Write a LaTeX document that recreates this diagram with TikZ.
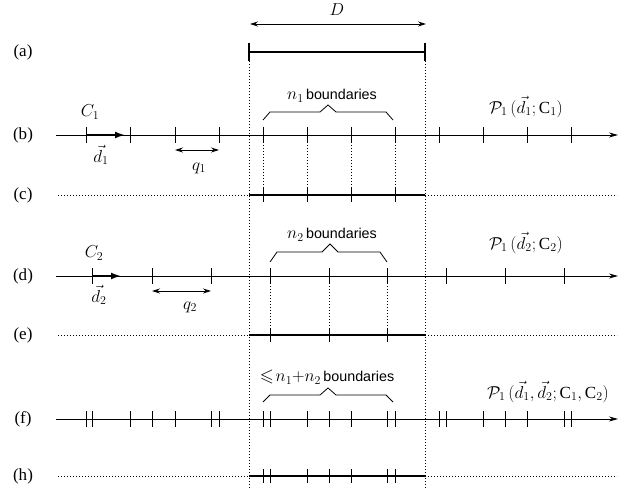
\documentclass[tikz,border=0pt]{standalone}
\usepackage{amsmath,amssymb}
\usepackage{fontspec}
\setmainfont{Liberation Serif}
\newfontfamily\bfont{Liberation Sans}
\usetikzlibrary{arrows.meta}
\newcommand{\mybigmath}[1]{{\fontsize{18}{18}\selectfont$#1$}}
\begin{document}
\begin{tikzpicture}[x=1pt,y=-1pt,
  rowlab/.style={font=\fontsize{17}{17}\selectfont, inner sep=0pt},
  axisline/.style={line width=0.8pt,-{Stealth[length=9pt,width=5pt]}},
  tickmark/.style={line width=0.8pt},
  seg/.style={line width=1.8pt},
  dotline/.style={line width=0.8pt, dash pattern=on 0.8pt off 2.2pt},
  bigarrow/.style={line width=1.8pt,-{Latex[length=10pt,width=7pt]}},
  dblarrow/.style={line width=0.8pt,{Stealth[length=8pt,width=5pt]}-{Stealth[length=8pt,width=5pt]}},
  brace/.style={line width=0.8pt},
  mathlab/.style={font=\fontsize{18}{18}\selectfont, inner sep=0pt},
  blab/.style={font=\fontsize{14.3}{14.3}\selectfont, inner sep=0pt},
  plab/.style={font=\fontsize{17}{17}\selectfont, inner sep=0pt}]
\useasboundingbox (0,0) rectangle (623,489);
\fill[white] (0,0) rectangle (623,489);

% row labels
\node[rowlab] (la) at (23,52) {(a)};
\node[rowlab] (lb) at (23,135) {(b)};
\node[rowlab] (lc) at (23,195) {(c)};
\node[rowlab] (ld) at (23,276) {(d)};
\node[rowlab] (le) at (23,335) {(e)};
\node[rowlab] (lf) at (23,419) {(f)};
\node[rowlab] (lh) at (23,476) {(h)};

% D arrow
\coordinate (DL) at (250,24); \coordinate (DR) at (426,24);
\draw[dblarrow] (DL) -- (DR);
\node[mathlab] (Dlab) at (337,10) {$D$};

% (a)
\coordinate (aL) at (249,52); \coordinate (aR) at (425,52);
\draw[seg] (aL) -- (aR);
\draw[seg] (249,43) -- (249,61);
\draw[seg] (425,43) -- (425,61);
\coordinate (vLtop) at (249,58); \coordinate (vLbot) at (249,489);
\coordinate (vRtop) at (425,58); \coordinate (vRbot) at (425,489);
\draw[dotline] (vLtop) -- (vLbot);
\draw[dotline] (vRtop) -- (vRbot);

% (b)
\coordinate (bS) at (56,135); \coordinate (bE) at (618,135);
\draw[axisline] (bS) -- (bE);
\foreach \x in {86,130,175,219,263,307,351,395,439,483,527,571}
  \draw[tickmark] (\x,127) -- (\x,143);
\coordinate (bA0) at (86,135); \coordinate (bA1) at (125,135);
\draw[bigarrow] (bA0) -- (bA1);
\node[mathlab] (C1) at (90,112) {$C_1$};
\node[mathlab] (d1) at (101,155) {$\vec{d}_1$};
\coordinate (q1L) at (175,150); \coordinate (q1R) at (219,150);
\draw[dblarrow] (q1L) -- (q1R);
\node[mathlab] (q1) at (199,168) {$q_1$};
\draw[brace] (263,120) -- (270,112) -- (320,112) -- (328,105) -- (336,112) -- (386,112) -- (393,120);
\node[blab] (n1) at (332,96) {\mybigmath{n_1}\,{\bfont boundaries}};
\node[plab] (P1) at (526,107) {$\mathcal{P}_1\,(\vec{d}_1;\mathrm{C}_1)$};
\foreach \x in {263,307,351,395}
  \draw[dotline] (\x,139) -- (\x,195);

% (c)
\coordinate (cS) at (58,195); \coordinate (cE) at (617,195);
\draw[dotline] (cS) -- (249,195);
\draw[seg] (249,195) -- (425,195);
\draw[dotline] (425,195) -- (cE);
\foreach \x in {263,307,351,395}
  \draw[tickmark] (\x,188) -- (\x,202);

% (d)
\coordinate (dS) at (56,276); \coordinate (dE) at (618,276);
\draw[axisline] (dS) -- (dE);
\foreach \x in {92,152,211,270,329,387,446,505,564}
  \draw[tickmark] (\x,268) -- (\x,284);
\coordinate (dA0) at (92,276); \coordinate (dA1) at (121,276);
\draw[bigarrow] (dA0) -- (dA1);
\node[mathlab] (C2) at (94,253) {$C_2$};
\node[mathlab] (d2) at (99,295) {$\vec{d}_2$};
\coordinate (q2L) at (152,291); \coordinate (q2R) at (211,291);
\draw[dblarrow] (q2L) -- (q2R);
\node[mathlab] (q2) at (190,307) {$q_2$};
\draw[brace] (270,262) -- (277,252) -- (322,252) -- (330,244) -- (338,252) -- (380,252) -- (387,262);
\node[blab] (n2) at (332,235) {\mybigmath{n_2}\,{\bfont boundaries}};
\node[plab] (P2) at (526,243) {$\mathcal{P}_1\,(\vec{d}_2;\mathrm{C}_2)$};
\foreach \x in {270,329,387}
  \draw[dotline] (\x,280) -- (\x,335);

% (e)
\coordinate (eS) at (58,335); \coordinate (eE) at (617,335);
\draw[dotline] (eS) -- (249,335);
\draw[seg] (249,335) -- (425,335);
\draw[dotline] (425,335) -- (eE);
\foreach \x in {270,329,387}
  \draw[tickmark] (\x,328) -- (\x,342);

% (f)
\coordinate (fS) at (56,419); \coordinate (fE) at (618,419);
\draw[axisline] (fS) -- (fE);
\foreach \x in {86,92,130,152,175,211,219,263,270,307,329,351,387,395,439,446,483,505,527,564,571}
  \draw[tickmark] (\x,411) -- (\x,427);
\draw[brace] (263,402) -- (270,395) -- (320,395) -- (328,388) -- (336,395) -- (386,395) -- (393,402);
\node[blab] (n12) at (327,377) {\mybigmath{\leqslant\!n_1{+}n_2}\,{\bfont boundaries}};
\node[plab] (P12) at (548,392) {$\mathcal{P}_1\,(\vec{d}_1,\vec{d}_2;\mathrm{C}_1,\mathrm{C}_2)$};

% (h)
\coordinate (hS) at (58,476); \coordinate (hE) at (617,476);
\draw[dotline] (hS) -- (249,476);
\draw[seg] (249,476) -- (425,476);
\draw[dotline] (425,476) -- (hE);
\foreach \x in {263,270,307,329,351,387,395}
  \draw[tickmark] (\x,469) -- (\x,483);
\end{tikzpicture}
\end{document}
